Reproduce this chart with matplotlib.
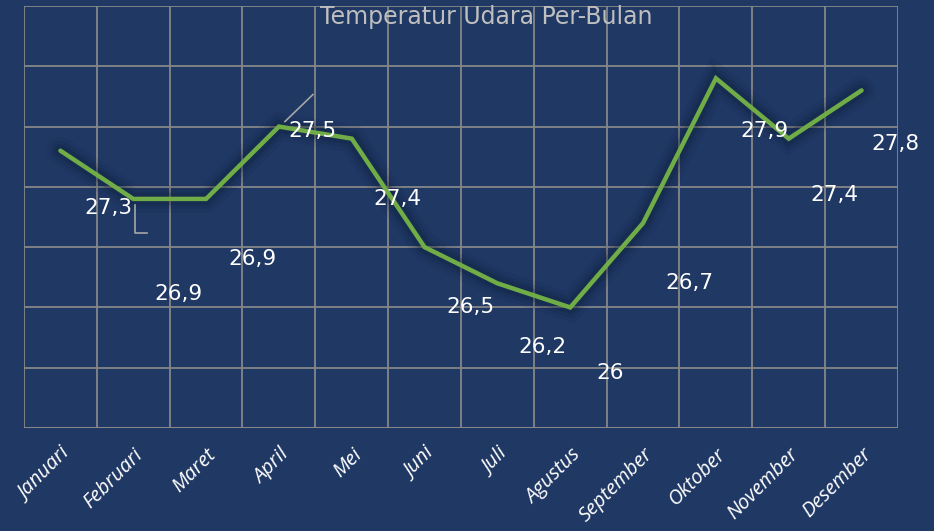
import matplotlib.pyplot as plt
import matplotlib.patheffects as pe
import numpy as np

# data
bulan = ['Januari', 'Februari', 'Maret', 'April', 'Mei', 'Juni', 'Juli',
         'Agustus', 'September', 'Oktober', 'November', 'Desember']
suhu = [27.3, 26.9, 26.9, 27.5, 27.4, 26.5, 26.2, 26.0, 26.7, 27.9, 27.4, 27.8]
label_suhu = ['27,3', '26,9', '26,9', '27,5', '27,4', '26,5', '26,2', '26',
              '26,7', '27,9', '27,4', '27,8']

bg = '#1f3864'
grid_col = '#868686'
green = '#70ad47'

my_dpi = 100
fig = plt.figure(figsize=(934 / my_dpi, 531 / my_dpi), dpi=my_dpi, facecolor=bg)
ax = fig.add_axes([24 / 934, 103 / 531, 874 / 934, 422 / 531])
ax.set_facecolor(bg)

x = np.arange(len(bulan))
ax.set_xlim(-0.5, len(bulan) - 0.5)
ax.set_ylim(25, 28.5)

# grid at category boundaries
for xb in np.arange(-0.5, len(bulan), 1.0):
    ax.axvline(xb, color=grid_col, lw=1.3, zorder=1)
for yb in np.arange(25.5, 28.51, 0.5):
    ax.axhline(yb, color=grid_col, lw=1.3, zorder=1)
for s in ax.spines.values():
    s.set_visible(False)
ax.axhline(25, color=grid_col, lw=2.2, zorder=1)

# line with a soft dark glow
glow = [pe.Stroke(linewidth=20, foreground='#0b1830', alpha=0.07),
        pe.Stroke(linewidth=14, foreground='#0b1830', alpha=0.12),
        pe.Stroke(linewidth=9, foreground='#0b1830', alpha=0.2),
        pe.Normal()]
ax.plot(x, suhu, color=green, lw=3.2, solid_capstyle='round',
        solid_joinstyle='miter', zorder=3, path_effects=glow)

# data labels (offset in pixels, y up)
offsets = [(46, -60)] * len(bulan)
offsets[0] = (48, -57)
offsets[1] = (45, -95)
offsets[3] = (34, -4)
offsets[6] = (45, -64)
offsets[7] = (40, -66)
offsets[9] = (49, -53)
offsets[10] = (46, -56)
offsets[11] = (34, -54)
for i, (v, t) in enumerate(zip(suhu, label_suhu)):
    ax.annotate(t, (i, v), xytext=offsets[i], textcoords='offset pixels',
                ha='center', va='center', color='white', fontsize=15.5,
                zorder=4)

# leader lines
fig.canvas.draw()
def leader(i, pts):
    px, py = ax.transData.transform((i, suhu[i]))
    xs = [px + dx for dx, dy in pts]
    ys = [py - dy for dx, dy in pts]
    fig.add_artist(plt.Line2D(xs, ys, transform=None, color='#a6a6a6', lw=1.2))

leader(1, [(2, 6), (2, 34), (14, 34)])
leader(3, [(6, -5), (34, -32)])

ax.set_yticks([])
ax.set_xticks(x)
ax.set_xticklabels(bulan, rotation=45, ha='right', rotation_mode='anchor',
                   color='white', fontsize=14.5, fontstyle='italic',
                   family='Open Sans')
ax.tick_params(axis='x', length=0, pad=12)

fig.text(486 / 934, 1 - 17 / 531, 'Temperatur Udara Per-Bulan', ha='center',
         va='center', color='#bfbfbf', fontsize=17)

plt.savefig('out.png', dpi=my_dpi, facecolor=bg)
